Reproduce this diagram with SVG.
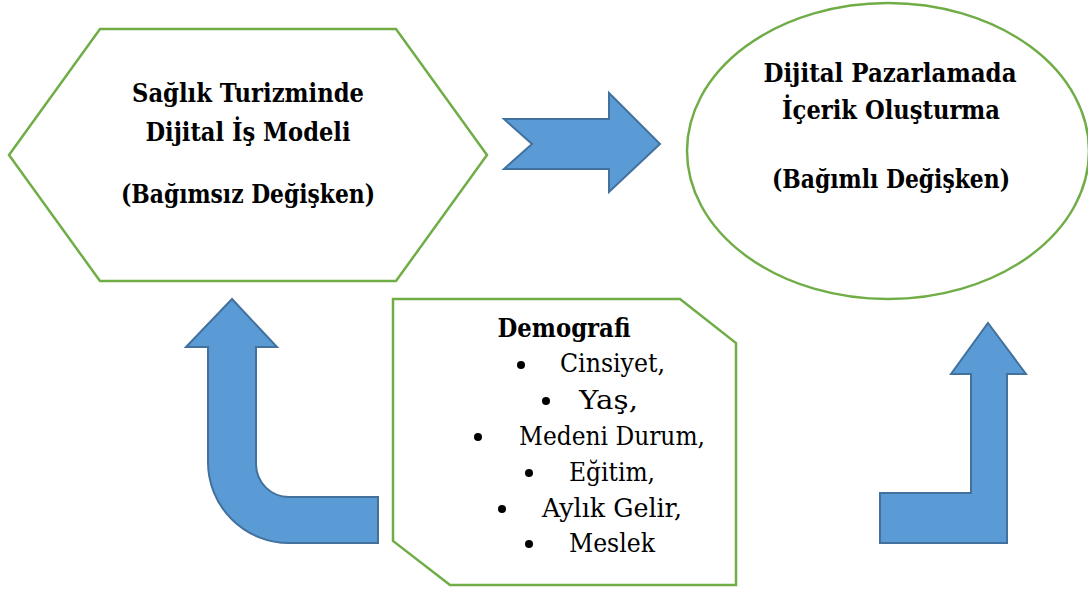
<svg xmlns="http://www.w3.org/2000/svg" width="1088" height="590" viewBox="0 0 1088 590">
  <style>
    .box { fill: #ffffff; stroke: #70AD47; stroke-width: 2.5; }
    .arrow { fill: #5B9BD5; stroke: #41719C; stroke-width: 2; stroke-linejoin: miter; }
    .dot { fill: #000; }
    text { font-family: 'DejaVu Serif', serif; font-size: 26px; fill: #000; }
    .bold { font-weight: bold; text-anchor: middle; }
  </style>
  <rect width="1088" height="590" fill="#ffffff"/>

  <!-- Independent variable: hexagon -->
  <g id="node-independent">
    <polygon class="box" points="100,29 396,29 487,155 396,281 100,281 9,155"/>
    <text class="bold" x="248" y="102" textLength="232" lengthAdjust="spacingAndGlyphs">Sağlık Turizminde</text>
    <text class="bold" x="248" y="141" textLength="205" lengthAdjust="spacingAndGlyphs">Dijital İş Modeli</text>
    <text class="bold" x="248" y="203" textLength="254" lengthAdjust="spacingAndGlyphs">(Bağımsız Değişken)</text>
  </g>

  <!-- Dependent variable: ellipse -->
  <g id="node-dependent">
    <ellipse class="box" cx="888" cy="151" rx="201" ry="148"/>
    <text class="bold" x="890" y="82" textLength="253" lengthAdjust="spacingAndGlyphs">Dijital Pazarlamada</text>
    <text class="bold" x="891" y="119" textLength="218" lengthAdjust="spacingAndGlyphs">İçerik Oluşturma</text>
    <text class="bold" x="891" y="188" textLength="238" lengthAdjust="spacingAndGlyphs">(Bağımlı Değişken)</text>
  </g>

  <!-- Demographics: snipped-corner box with bullet list -->
  <g id="node-demographics">
    <polygon class="box" points="393,299 680,299 736,343 736,585 450,585 393,541"/>
    <text class="bold" x="564" y="337" textLength="133" lengthAdjust="spacingAndGlyphs">Demografi</text>
    <circle class="dot" cx="521" cy="365" r="4"/>
    <text x="560" y="372" textLength="105" lengthAdjust="spacingAndGlyphs">Cinsiyet,</text>
    <circle class="dot" cx="546" cy="401" r="4"/>
    <text x="579" y="409" textLength="59" lengthAdjust="spacingAndGlyphs">Yaş,</text>
    <circle class="dot" cx="478" cy="437" r="4"/>
    <text x="519" y="445" textLength="186" lengthAdjust="spacingAndGlyphs">Medeni Durum,</text>
    <circle class="dot" cx="529" cy="473" r="4"/>
    <text x="569" y="481" textLength="86" lengthAdjust="spacingAndGlyphs">Eğitim,</text>
    <circle class="dot" cx="502" cy="509" r="4"/>
    <text x="542" y="517" textLength="140" lengthAdjust="spacingAndGlyphs">Aylık Gelir,</text>
    <circle class="dot" cx="529" cy="544" r="4"/>
    <text x="569" y="552" textLength="86" lengthAdjust="spacingAndGlyphs">Meslek</text>
  </g>

  <!-- Block arrows -->
  <g id="connectors">
    <polygon class="arrow" points="504,119 609,119 609,93 660,144 609,192 609,169 504,169 532,144"/>
    <path class="arrow" d="M232,299 L277,347 L256,347 L256,464 A33,33 0 0 0 289,497 L378,497 L378,543 L289,543 A81,81 0 0 1 208,462 L208,347 L186,347 Z"/>
    <polygon class="arrow" points="988,323 1026,374 1007,374 1007,543 880,543 880,493 971,493 971,374 951,374"/>
  </g>
</svg>
